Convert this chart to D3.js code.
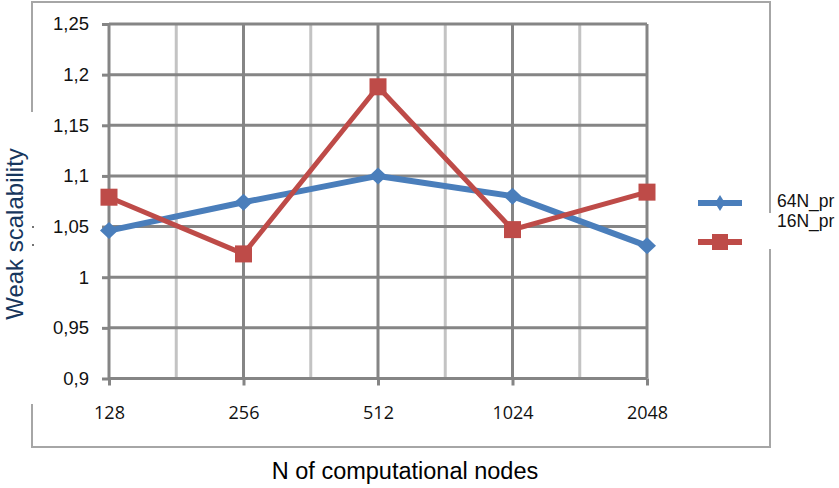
<!DOCTYPE html>
<html><head><meta charset="utf-8">
<script src="https://cdn.jsdelivr.net/npm/d3@7/dist/d3.min.js"></script>
<style>
html,body{margin:0;padding:0;background:#fff;}
svg{display:block;}
</style></head>
<body>
<svg id="chart" width="839" height="488"></svg>
<script>
const categories = ["128", "256", "512", "1024", "2048"];
const series64 = [1.046, 1.074, 1.100, 1.080, 1.031];
const series16 = [1.079, 1.023, 1.188, 1.047, 1.084];
const yTicks = [0.9, 0.95, 1, 1.05, 1.1, 1.15, 1.2, 1.25];
const seriesNames = ["64N_pr", "16N_pr"];
const xTitle = "N of computational nodes";
const yTitle = "Weak scalability";

const svg = d3.select("#chart");
const x = d3.scalePoint().domain(categories).range([109, 647]);
const y = d3.scaleLinear().domain([0.9, 1.25]).range([378.5, 24]);

const blue = "#4a7ebb", red = "#be4b48";
const gridDark = "#858585", gridLight = "#c3c3c3";

// outer chart border
svg.append("rect").attr("x", 32).attr("y", 2).attr("width", 738).attr("height", 445)
  .attr("fill", "#fff").attr("stroke", "#a6a6a6").attr("stroke-width", 2);

// minor vertical gridlines (midpoints)
const mids = categories.slice(0, -1).map((c, i) => (x(c) + x(categories[i + 1])) / 2);
svg.append("g").selectAll("line").data(mids).join("line")
  .attr("x1", d => d).attr("x2", d => d)
  .attr("y1", y(1.25)).attr("y2", y(0.9))
  .attr("stroke", gridLight).attr("stroke-width", 3);

// major vertical gridlines
svg.append("g").selectAll("line").data(categories).join("line")
  .attr("x1", d => x(d)).attr("x2", d => x(d))
  .attr("y1", y(1.25)).attr("y2", y(0.9))
  .attr("stroke", gridDark).attr("stroke-width", 3);

// horizontal gridlines
svg.append("g").selectAll("line").data(yTicks).join("line")
  .attr("x1", x("128")).attr("x2", x("2048"))
  .attr("y1", d => y(d)).attr("y2", d => y(d))
  .attr("stroke", gridDark).attr("stroke-width", 3);

// y axis
const yAxis = d3.axisLeft(y).tickValues(yTicks).tickSize(7).tickPadding(13)
  .tickFormat(d => String(d).replace(".", ","));
const gy = svg.append("g").attr("transform", `translate(${x("128")},0)`).call(yAxis);
gy.select(".domain").remove();
gy.selectAll(".tick line").attr("stroke", gridDark).attr("stroke-width", 3);
gy.selectAll(".tick text").attr("font-family", "'Liberation Sans', Arial, sans-serif")
  .attr("font-size", 18.5).attr("fill", "#111");

// x axis
const xAxis = d3.axisBottom(x).tickSize(7).tickPadding(21);
const gx = svg.append("g").attr("transform", `translate(0,${y(0.9)})`).call(xAxis);
gx.select(".domain").remove();
gx.selectAll(".tick line").attr("stroke", gridDark).attr("stroke-width", 3);
gx.selectAll(".tick text").attr("font-family", "'Open Sans', sans-serif")
  .attr("font-size", 18).attr("fill", "#111");

// series
const line = d3.line().x((d, i) => x(categories[i])).y(d => y(d));
svg.append("path").datum(series64).attr("d", line).attr("fill", "none")
  .attr("stroke", blue).attr("stroke-width", 6).attr("stroke-linejoin", "round");
svg.append("path").datum(series16).attr("d", line).attr("fill", "none")
  .attr("stroke", red).attr("stroke-width", 5).attr("stroke-linejoin", "miter");

const diamond = (cx, cy, w, h) => `M${cx},${cy - h / 2}L${cx + w / 2},${cy}L${cx},${cy + h / 2}L${cx - w / 2},${cy}Z`;
svg.append("g").selectAll("path").data(series64).join("path")
  .attr("d", (d, i) => diamond(x(categories[i]), y(d), 18, 17)).attr("fill", blue);
svg.append("g").selectAll("rect").data(series16).join("rect")
  .attr("x", (d, i) => x(categories[i]) - 8.5).attr("y", d => y(d) - 8.5)
  .attr("width", 17).attr("height", 17).attr("fill", red);

// y title background covering border
svg.append("rect").attr("x", 0).attr("y", 112).attr("width", 34).attr("height", 292).attr("fill", "#fff");
svg.append("circle").attr("cx", 33).attr("cy", 227).attr("r", 1).attr("fill", "#444");
svg.append("circle").attr("cx", 33).attr("cy", 245).attr("r", 1).attr("fill", "#444");
svg.append("text").attr("transform", "translate(23,234) rotate(-90)")
  .attr("text-anchor", "middle").attr("font-family", "'Liberation Sans', Arial, sans-serif")
  .attr("font-size", 24).attr("fill", "#17365d").text(yTitle);

// x title
svg.append("text").attr("x", 405).attr("y", 479).attr("text-anchor", "middle")
  .attr("font-family", "'Liberation Sans', Arial, sans-serif")
  .attr("font-size", 23.5).attr("fill", "#000").text(xTitle);

// legend
svg.append("rect").attr("x", 767).attr("y", 213).attr("width", 6).attr("height", 36).attr("fill", "#fff");
const legendY = [203, 242];
svg.append("line").attr("x1", 698).attr("x2", 742).attr("y1", legendY[0]).attr("y2", legendY[0])
  .attr("stroke", blue).attr("stroke-width", 6);
svg.append("path").attr("d", diamond(720, legendY[0], 10, 16)).attr("fill", blue);
svg.append("line").attr("x1", 698).attr("x2", 742).attr("y1", legendY[1]).attr("y2", legendY[1])
  .attr("stroke", red).attr("stroke-width", 6);
svg.append("rect").attr("x", 712).attr("y", legendY[1] - 8).attr("width", 16).attr("height", 16).attr("fill", red);
svg.append("g").selectAll("text").data(seriesNames).join("text")
  .attr("x", 777).attr("y", (d, i) => [207, 227][i])
  .attr("font-family", "'Liberation Sans', Arial, sans-serif")
  .attr("font-size", 17.5).attr("fill", "#111").text(d => d);
</script>
</body></html>
